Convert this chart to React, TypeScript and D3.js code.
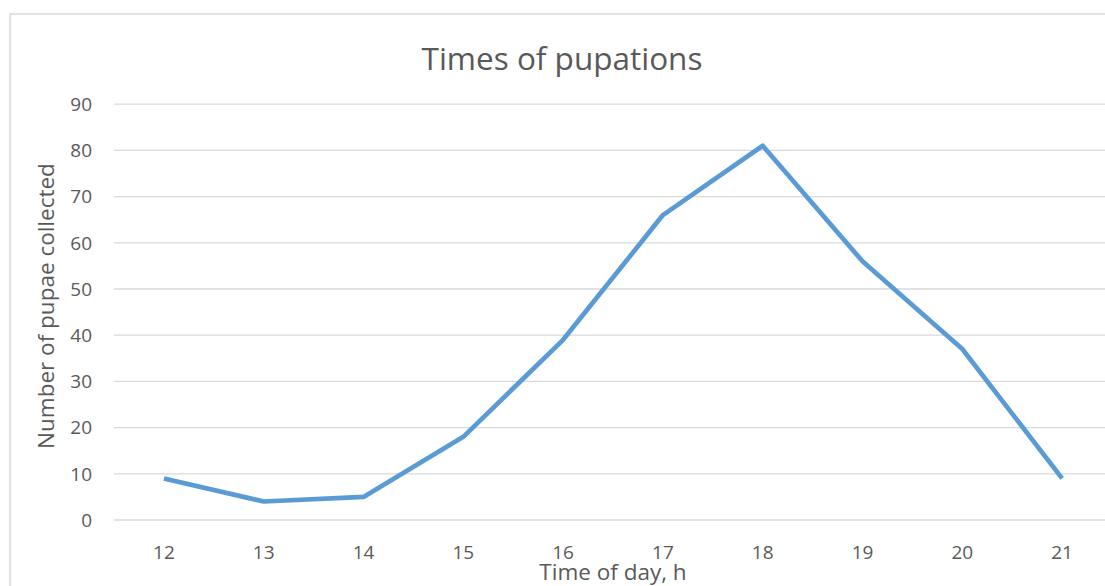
import React from "react";
import * as d3 from "d3";

const hours = ["12", "13", "14", "15", "16", "17", "18", "19", "20", "21"];
const pupae = [9, 4, 5, 18, 39, 66, 81, 56, 37, 9];
const yTicks = [0, 10, 20, 30, 40, 50, 60, 70, 80, 90];

const W = 1105;
const H = 586;
const FONT = "'Open Sans', 'Liberation Sans', sans-serif";
const TEXT = "#595959";

export default function App() {
  const left = 114;
  const right = 1112;
  const top = 104.2;
  const bottom = 520;

  const x = d3.scaleBand<string>().domain(hours).range([left, right]).padding(0);
  const y = d3.scaleLinear().domain([0, 90]).range([bottom, top]);
  const cx = (h: string) => (x(h) ?? 0) + x.bandwidth() / 2;

  const line = d3
    .line<number>()
    .x((_, i) => cx(hours[i]))
    .y((d) => y(d));

  return (
    <svg width={W} height={H} style={{ position: "absolute", left: 0, top: 0, background: "#fff" }}>
      <rect x={10} y={14} width={1110} height={600} fill="#fff" stroke="#d9d9d9" strokeWidth={1.5} />
      <text x={562} y={70} textAnchor="middle" fontFamily={FONT} fontSize={31.5} fill={TEXT}>
        Times of pupations
      </text>
      {yTicks.map((t) => (
        <g key={t}>
          <line x1={left} x2={right} y1={y(t)} y2={y(t)} stroke="#d9d9d9" strokeWidth={1.3} />
          <text x={92} y={y(t)} dy="0.36em" textAnchor="end" fontFamily={FONT} fontSize={19} fill={TEXT}>
            {t}
          </text>
        </g>
      ))}
      {hours.map((h) => (
        <text key={h} x={cx(h)} y={559} textAnchor="middle" fontFamily={FONT} fontSize={19} fill={TEXT}>
          {h}
        </text>
      ))}
      <path d={line(pupae) ?? ""} fill="none" stroke="#5b9bd5" strokeWidth={4.7} strokeLinejoin="round" />
      <text x={613} y={580} textAnchor="middle" fontFamily={FONT} fontSize={22.5} fill={TEXT}>
        Time of day, h
      </text>
      <text
        transform={`translate(54,306) rotate(-90)`}
        textAnchor="middle"
        fontFamily={FONT}
        fontSize={22.5}
        fill={TEXT}
      >
        Number of pupae collected
      </text>
    </svg>
  );
}
